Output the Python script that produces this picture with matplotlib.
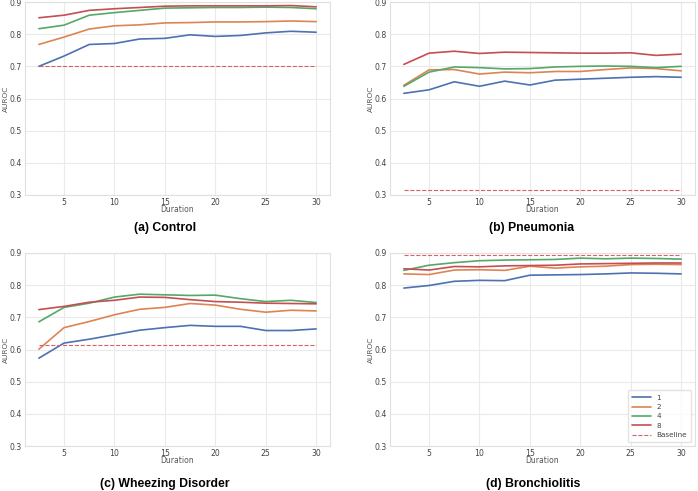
import matplotlib

matplotlib.use("Agg")

import matplotlib.pyplot as plt
import seaborn as sns

sns.set_theme(style="whitegrid")
plt.rcParams["font.family"] = ["DejaVu Sans"]

durations = [2.5, 5, 7.5, 10, 12.5, 15, 17.5, 20, 22.5, 25, 27.5, 30]
series_names = ["1", "2", "4", "8"]
colors = ["#4C72B0", "#DD8452", "#55A868", "#C44E52"]

control = {
    "1": [0.700, 0.732, 0.768, 0.771, 0.785, 0.787, 0.798, 0.793, 0.796, 0.804, 0.809, 0.806],
    "2": [0.768, 0.791, 0.816, 0.826, 0.829, 0.835, 0.836, 0.838, 0.838, 0.839, 0.841, 0.839],
    "4": [0.817, 0.828, 0.859, 0.867, 0.874, 0.881, 0.882, 0.883, 0.883, 0.884, 0.883, 0.879],
    "8": [0.851, 0.859, 0.874, 0.879, 0.883, 0.887, 0.888, 0.888, 0.888, 0.888, 0.889, 0.885],
}
pneumonia = {
    "1": [0.616, 0.627, 0.652, 0.638, 0.654, 0.642, 0.657, 0.660, 0.663, 0.666, 0.668, 0.666],
    "2": [0.641, 0.689, 0.690, 0.676, 0.682, 0.680, 0.684, 0.684, 0.690, 0.695, 0.693, 0.686],
    "4": [0.638, 0.682, 0.698, 0.696, 0.692, 0.693, 0.698, 0.700, 0.701, 0.700, 0.696, 0.700],
    "8": [0.706, 0.741, 0.747, 0.740, 0.744, 0.743, 0.742, 0.741, 0.741, 0.742, 0.734, 0.738],
}
wheezing = {
    "1": [0.573, 0.620, 0.632, 0.646, 0.660, 0.668, 0.675, 0.672, 0.672, 0.659, 0.659, 0.664],
    "2": [0.601, 0.668, 0.687, 0.708, 0.725, 0.731, 0.743, 0.738, 0.725, 0.716, 0.722, 0.720],
    "4": [0.686, 0.731, 0.744, 0.763, 0.772, 0.770, 0.768, 0.769, 0.758, 0.749, 0.753, 0.746],
    "8": [0.724, 0.734, 0.747, 0.753, 0.763, 0.762, 0.755, 0.749, 0.747, 0.744, 0.743, 0.742],
}
bronchiolitis = {
    "1": [0.791, 0.799, 0.812, 0.815, 0.814, 0.831, 0.832, 0.833, 0.835, 0.838, 0.837, 0.835],
    "2": [0.835, 0.833, 0.847, 0.848, 0.846, 0.859, 0.853, 0.857, 0.859, 0.864, 0.865, 0.864],
    "4": [0.846, 0.862, 0.870, 0.876, 0.878, 0.879, 0.880, 0.884, 0.882, 0.884, 0.883, 0.881],
    "8": [0.851, 0.847, 0.858, 0.857, 0.860, 0.861, 0.862, 0.866, 0.867, 0.868, 0.869, 0.869],
}
baselines = [0.701, 0.316, 0.613, 0.895]
titles = ["(a) Control", "(b) Pneumonia", "(c) Wheezing Disorder", "(d) Bronchiolitis"]
panels = [control, pneumonia, wheezing, bronchiolitis]

W, H = 698, 491
fig = plt.figure(figsize=(W / 100, H / 100), dpi=100)

# axes boxes in pixels: left, top, right, bottom
boxes = [(25, 2, 330, 195), (390, 2, 695, 195), (25, 253, 330, 446), (390, 253, 695, 446)]
title_pos = [(165, 228), (532, 228), (165, 484), (533, 484)]

for i, (data, base, title) in enumerate(zip(panels, baselines, titles)):
    l, t, r, b = boxes[i]
    ax = fig.add_axes([l / W, 1 - b / H, (r - l) / W, (b - t) / H])
    for name, c in zip(series_names, colors):
        ax.plot(durations, data[name], color=c, linewidth=1.2, label=name)
    ax.plot(durations, [base] * len(durations), color="#D9606A", linestyle="--",
            linewidth=0.8, label="Baseline")
    ax.set_ylim(0.3, 0.9)
    ax.set_xticks([5, 10, 15, 20, 25, 30])
    ax.set_yticks([0.3, 0.4, 0.5, 0.6, 0.7, 0.8, 0.9])
    ax.tick_params(labelsize=5.6, colors="#444444", pad=2, length=0)
    ax.set_xlabel("Duration", fontsize=5.5, color="#555555", labelpad=-1)
    ax.set_ylabel("AUROC", fontsize=5.3, color="#555555")
    ax.yaxis.set_label_coords(-0.052, 0.5)
    ax.grid(color="#EAEAEA", linewidth=0.8)
    for spine in ax.spines.values():
        spine.set_color("#E0E0E0")
        spine.set_linewidth(0.8)
    if i == 3:
        leg = ax.legend(loc="lower right", fontsize=5.2, frameon=True, handlelength=2.6,
                        borderpad=0.6, labelspacing=0.45, handletextpad=0.8)
        leg.get_frame().set_edgecolor("#DDDDDD")
        for txt in leg.get_texts():
            txt.set_color("#444444")
    tx, ty = title_pos[i]
    fig.text(tx / W, 1 - ty / H, title, ha="center", va="center", fontsize=8.8,
             fontweight="bold", family="Liberation Sans", color="black")

fig.savefig("out.png", dpi=100)
